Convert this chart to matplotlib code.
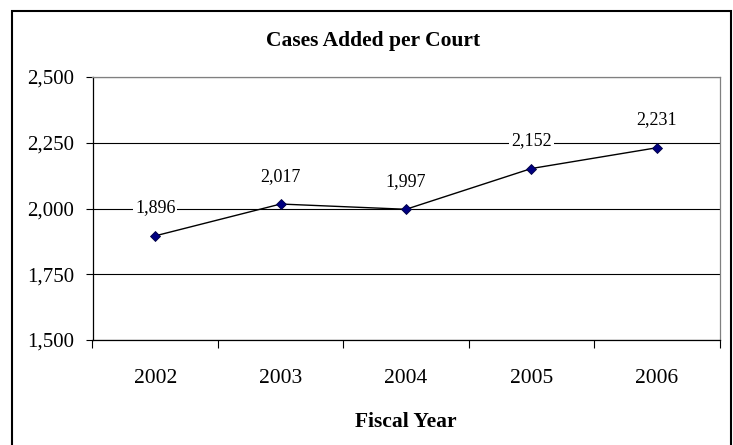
import matplotlib
matplotlib.use("Agg")
import matplotlib.pyplot as plt
import matplotlib.patches as patches

# data
years = ["2002", "2003", "2004", "2005", "2006"]
cases = [1896, 2017, 1997, 2152, 2231]
y_ticks = [1500, 1750, 2000, 2250, 2500]

plt.rcParams["font.family"] = ["Liberation Serif", "DejaVu Serif"]

W, H = 733, 445
fig = plt.figure(figsize=(7.33, 4.45), dpi=100)
ax = fig.add_axes([92.5 / W, 1 - 340 / H, 627 / W, 263 / H])

# outer chart frame (bottom edge runs off the image)
fig.add_artist(patches.Rectangle((11.5 / W, -0.05), 719 / W, 1.05 - 10.5 / H,
                                 transform=fig.transFigure, fill=False,
                                 edgecolor="black", linewidth=1.5))

x = list(range(len(years)))
ax.plot(x, cases, color="black", linewidth=1.0, zorder=3,
        marker="D", markersize=5, markerfacecolor="#000080",
        markeredgecolor="#000040", markeredgewidth=0.6)

for xi, v in zip(x, cases):
    ax.annotate(f"{v:,}", (xi, v), xytext=(0, 20), textcoords="offset points",
                ha="center", va="center", fontsize=13, zorder=5,
                bbox=dict(boxstyle="square,pad=0.1", facecolor="white", edgecolor="none"))

ax.set_ylim(1500, 2500)
ax.set_yticks(y_ticks)
ax.set_yticklabels([f"{t:,}" for t in y_ticks])
ax.yaxis.grid(True, color="black", linewidth=0.8)
ax.set_axisbelow(True)

ax.set_xlim(-0.5, len(years) - 0.5)
ax.set_xticks([i - 0.5 for i in range(len(years) + 1)])
ax.set_xticklabels([])
ax.set_xticks(x, minor=True)
ax.set_xticklabels(years, minor=True)
ax.tick_params(axis="x", which="major", direction="out", length=6, width=0.8)
ax.tick_params(axis="x", which="minor", length=0, pad=21, labelsize=15.5)
ax.tick_params(axis="y", direction="out", length=5, width=0.8, labelsize=15, pad=8)

for side in ("left", "bottom"):
    ax.spines[side].set_color("black")
    ax.spines[side].set_linewidth(0.9)
for side in ("top", "right"):
    ax.spines[side].set_color("#808080")
    ax.spines[side].set_linewidth(0.9)

fig.text(373 / W, 1 - 41 / H, "Cases Added per Court", ha="center", va="center",
         fontsize=15.5, fontweight="bold")
fig.text(406 / W, 1 - 422 / H, "Fiscal Year", ha="center", va="center",
         fontsize=15.5, fontweight="bold")

fig.savefig("out.png", dpi=100)
